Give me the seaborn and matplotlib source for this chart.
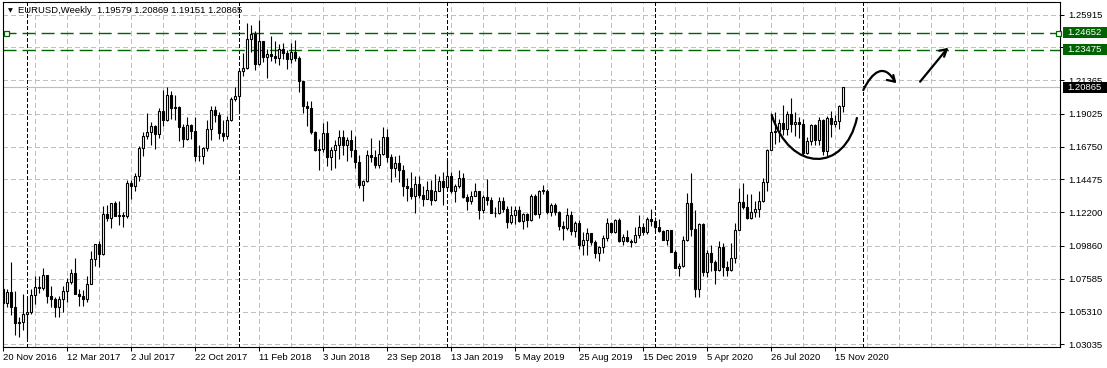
import numpy as np
import pandas as pd
import matplotlib
matplotlib.use("Agg")
import matplotlib.pyplot as plt
import seaborn as sns
from matplotlib.path import Path
from matplotlib.patches import PathPatch, Rectangle
from matplotlib.transforms import blended_transform_factory

# ---------------- data: EURUSD weekly candles, 20 Nov 2016 .. 29 Nov 2020 ----------------
opens = [
    1.0690, 1.0588, 1.0665, 1.0562, 1.0450, 1.0455,
    1.0517, 1.0530, 1.0643, 1.0704, 1.0697, 1.0784, 1.0640, 1.0615, 1.0562, 1.0620, 1.0672, 1.0737, 1.0799,
    1.0652, 1.0642, 1.0615, 1.0725, 1.0896, 1.0998, 1.0933, 1.1206, 1.1181, 1.1281, 1.1195, 1.1198, 1.1194,
    1.1426, 1.1400, 1.1470, 1.1665, 1.1750, 1.1774, 1.1820, 1.1760, 1.1923, 1.1860, 1.2035, 1.1943, 1.1951,
    1.1815, 1.1731, 1.1823, 1.1783, 1.1608, 1.1608, 1.1665, 1.1795, 1.1933, 1.1896, 1.1770, 1.1750, 1.1860,
    1.2005, 1.2030, 1.2200, 1.2220, 1.2425, 1.2460, 1.2250, 1.2405, 1.2295, 1.2315, 1.2305, 1.2290, 1.2355,
    1.2325, 1.2280, 1.2330, 1.2290, 1.2130, 1.1960, 1.1940, 1.1775, 1.1650, 1.1660, 1.1770, 1.1605, 1.1655,
    1.1685, 1.1745, 1.1685, 1.1720, 1.1655, 1.1570, 1.1410, 1.1440, 1.1620, 1.1600, 1.1550, 1.1625, 1.1745,
    1.1605, 1.1525, 1.1560, 1.1510, 1.1405, 1.1385, 1.1335, 1.1415, 1.1340, 1.1315, 1.1375, 1.1305, 1.1370,
    1.1440, 1.1395, 1.1470, 1.1365, 1.1405, 1.1455, 1.1325, 1.1295, 1.1335, 1.1365, 1.1235, 1.1325, 1.1305,
    1.1215, 1.1215, 1.1300, 1.1245, 1.1150, 1.1200, 1.1235, 1.1160, 1.1205, 1.1165, 1.1335, 1.1210, 1.1370,
    1.1370, 1.1225, 1.1270, 1.1220, 1.1125, 1.1110, 1.1200, 1.1090, 1.1145, 1.0990, 1.1030, 1.1075, 1.1015,
    1.0940, 1.0980, 1.1040, 1.1145, 1.1080, 1.1165, 1.1020, 1.1050, 1.1020, 1.1015, 1.1060, 1.1120, 1.1080,
    1.1175, 1.1160, 1.1120, 1.1090, 1.1025, 1.1095, 1.0945, 1.0830, 1.0845, 1.1025, 1.1285, 1.1105, 1.0690,
    1.1140, 1.0805, 1.0935, 1.0875, 1.0820, 1.0980, 1.0840, 1.0820, 1.0900, 1.1100, 1.1290, 1.1255, 1.1180,
    1.1220, 1.1245, 1.1300, 1.1430, 1.1655, 1.1775, 1.1785, 1.1840, 1.1795, 1.1905, 1.1835, 1.1845, 1.1835,
    1.1630, 1.1715, 1.1825, 1.1720, 1.1860, 1.1645, 1.1875, 1.1835, 1.1855, 1.19579,
]
highs = [
    1.0700, 1.0690, 1.0874, 1.0670, 1.0490, 1.0653,
    1.0630, 1.0685, 1.0775, 1.0775, 1.0830, 1.0785, 1.0710, 1.0630, 1.0640, 1.0710, 1.0765, 1.0825, 1.0905,
    1.0690, 1.0680, 1.0780, 1.0950, 1.0999, 1.1020, 1.1265, 1.1268, 1.1285, 1.1295, 1.1295, 1.1220, 1.1445,
    1.1445, 1.1490, 1.1680, 1.1775, 1.1910, 1.1845, 1.1825, 1.1940, 1.2070, 1.2090, 1.2060, 1.2035, 1.1960,
    1.1835, 1.1880, 1.1835, 1.1880, 1.1690, 1.1670, 1.1860, 1.1960, 1.1960, 1.1915, 1.1860, 1.1890, 1.2020,
    1.2090, 1.2215, 1.2325, 1.2535, 1.2520, 1.2475, 1.2555, 1.2410, 1.2355, 1.2445, 1.2410, 1.2390, 1.2395,
    1.2345, 1.2395, 1.2415, 1.2305, 1.2130, 1.1995, 1.1995, 1.1785, 1.1725, 1.1840, 1.1850, 1.1675, 1.1720,
    1.1790, 1.1790, 1.1745, 1.1790, 1.1750, 1.1620, 1.1445, 1.1650, 1.1735, 1.1650, 1.1720, 1.1815, 1.1800,
    1.1625, 1.1610, 1.1620, 1.1545, 1.1455, 1.1500, 1.1470, 1.1470, 1.1400, 1.1440, 1.1445, 1.1485, 1.1470,
    1.1500, 1.1580, 1.1500, 1.1415, 1.1515, 1.1490, 1.1345, 1.1370, 1.1420, 1.1370, 1.1340, 1.1450, 1.1325,
    1.1255, 1.1325, 1.1325, 1.1265, 1.1265, 1.1265, 1.1265, 1.1215, 1.1215, 1.1350, 1.1345, 1.1375, 1.1410,
    1.1380, 1.1285, 1.1285, 1.1230, 1.1160, 1.1250, 1.1230, 1.1160, 1.1165, 1.1085, 1.1110, 1.1075, 1.1025,
    1.0985, 1.1065, 1.1180, 1.1150, 1.1175, 1.1180, 1.1070, 1.1095, 1.1035, 1.1115, 1.1200, 1.1145, 1.1190,
    1.1240, 1.1190, 1.1175, 1.1100, 1.1095, 1.1095, 1.0955, 1.0865, 1.1055, 1.1355, 1.1495, 1.1235, 1.1145,
    1.1145, 1.0955, 1.0990, 1.0890, 1.1020, 1.1010, 1.0880, 1.1010, 1.1145, 1.1385, 1.1420, 1.1350, 1.1350,
    1.1300, 1.1370, 1.1455, 1.1660, 1.1910, 1.1915, 1.1865, 1.1965, 1.1920, 1.2010, 1.1915, 1.1880, 1.1870,
    1.1745, 1.1835, 1.1830, 1.1880, 1.1870, 1.1890, 1.1920, 1.1895, 1.1965, 1.20869,
]
lows = [
    1.0518, 1.0565, 1.0505, 1.0367, 1.0352, 1.0405,
    1.0340, 1.0515, 1.0580, 1.0660, 1.0680, 1.0590, 1.0565, 1.0495, 1.0495, 1.0525, 1.0600, 1.0720, 1.0650,
    1.0570, 1.0570, 1.0600, 1.0720, 1.0850, 1.0840, 1.0925, 1.1160, 1.1110, 1.1195, 1.1130, 1.1120, 1.1180,
    1.1310, 1.1370, 1.1440, 1.1610, 1.1730, 1.1690, 1.1660, 1.1735, 1.1820, 1.1850, 1.1870, 1.1860, 1.1715,
    1.1670, 1.1720, 1.1730, 1.1575, 1.1575, 1.1555, 1.1645, 1.1720, 1.1845, 1.1730, 1.1715, 1.1725, 1.1855,
    1.1990, 1.1915, 1.2165, 1.2215, 1.2335, 1.2205, 1.2245, 1.2260, 1.2155, 1.2270, 1.2255, 1.2240, 1.2280,
    1.2215, 1.2255, 1.2270, 1.2055, 1.1910, 1.1820, 1.1765, 1.1645, 1.1510, 1.1640, 1.1540, 1.1510, 1.1525,
    1.1590, 1.1615, 1.1575, 1.1605, 1.1530, 1.1385, 1.1300, 1.1430, 1.1570, 1.1525, 1.1530, 1.1620, 1.1570,
    1.1430, 1.1465, 1.1430, 1.1335, 1.1300, 1.1315, 1.1215, 1.1320, 1.1265, 1.1310, 1.1270, 1.1300, 1.1370,
    1.1270, 1.1390, 1.1355, 1.1290, 1.1385, 1.1320, 1.1235, 1.1275, 1.1335, 1.1175, 1.1215, 1.1270, 1.1215,
    1.1185, 1.1210, 1.1225, 1.1110, 1.1135, 1.1135, 1.1150, 1.1105, 1.1115, 1.1160, 1.1200, 1.1180, 1.1350,
    1.1205, 1.1195, 1.1200, 1.1100, 1.1025, 1.1100, 1.1065, 1.1050, 1.0965, 1.0925, 1.0925, 1.0990, 1.0905,
    1.0880, 1.0940, 1.1020, 1.1075, 1.1075, 1.1015, 1.0990, 1.1015, 1.0980, 1.1005, 1.1040, 1.1065, 1.1070,
    1.1125, 1.1085, 1.1085, 1.1025, 1.0995, 1.0945, 1.0830, 1.0775, 1.0840, 1.1020, 1.1055, 1.0635, 1.0635,
    1.0780, 1.0770, 1.0810, 1.0725, 1.0815, 1.0780, 1.0775, 1.0810, 1.0870, 1.1095, 1.1245, 1.1170, 1.1170,
    1.1185, 1.1185, 1.1290, 1.1370, 1.1655, 1.1695, 1.1710, 1.1755, 1.1755, 1.1780, 1.1750, 1.1735, 1.1610,
    1.1625, 1.1685, 1.1685, 1.1690, 1.1620, 1.1600, 1.1745, 1.1810, 1.1800, 1.19151,
]
closes = [
    1.0588, 1.0665, 1.0562, 1.0450, 1.0455, 1.0517,
    1.0530, 1.0643, 1.0704, 1.0697, 1.0784, 1.0640, 1.0615, 1.0562, 1.0620, 1.0672, 1.0737, 1.0799, 1.0652,
    1.0642, 1.0615, 1.0725, 1.0896, 1.0998, 1.0933, 1.1206, 1.1181, 1.1281, 1.1195, 1.1198, 1.1194, 1.1426,
    1.1400, 1.1470, 1.1665, 1.1750, 1.1774, 1.1820, 1.1760, 1.1923, 1.1860, 1.2035, 1.1943, 1.1951, 1.1815,
    1.1731, 1.1823, 1.1783, 1.1608, 1.1608, 1.1665, 1.1795, 1.1933, 1.1896, 1.1770, 1.1750, 1.1860, 1.2005,
    1.2030, 1.2200, 1.2220, 1.2425, 1.2460, 1.2250, 1.2405, 1.2295, 1.2315, 1.2305, 1.2290, 1.2355, 1.2325,
    1.2280, 1.2330, 1.2290, 1.2130, 1.1960, 1.1940, 1.1775, 1.1650, 1.1660, 1.1770, 1.1605, 1.1655, 1.1685,
    1.1745, 1.1685, 1.1720, 1.1655, 1.1570, 1.1410, 1.1440, 1.1620, 1.1600, 1.1550, 1.1625, 1.1745, 1.1605,
    1.1525, 1.1560, 1.1510, 1.1405, 1.1385, 1.1335, 1.1415, 1.1340, 1.1315, 1.1375, 1.1305, 1.1370, 1.1440,
    1.1395, 1.1470, 1.1365, 1.1405, 1.1455, 1.1325, 1.1295, 1.1335, 1.1365, 1.1235, 1.1325, 1.1305, 1.1215,
    1.1215, 1.1300, 1.1245, 1.1150, 1.1200, 1.1235, 1.1160, 1.1205, 1.1165, 1.1335, 1.1210, 1.1370, 1.1370,
    1.1225, 1.1270, 1.1220, 1.1125, 1.1110, 1.1200, 1.1090, 1.1145, 1.0990, 1.1030, 1.1075, 1.1015, 1.0940,
    1.0980, 1.1040, 1.1145, 1.1080, 1.1165, 1.1020, 1.1050, 1.1020, 1.1015, 1.1060, 1.1120, 1.1080, 1.1175,
    1.1160, 1.1120, 1.1090, 1.1025, 1.1095, 1.0945, 1.0830, 1.0845, 1.1025, 1.1285, 1.1105, 1.0690, 1.1140,
    1.0805, 1.0935, 1.0875, 1.0820, 1.0980, 1.0840, 1.0820, 1.0900, 1.1100, 1.1290, 1.1255, 1.1180, 1.1220,
    1.1245, 1.1300, 1.1430, 1.1655, 1.1775, 1.1785, 1.1840, 1.1795, 1.1905, 1.1835, 1.1845, 1.1835, 1.1630,
    1.1715, 1.1825, 1.1720, 1.1860, 1.1645, 1.1875, 1.1835, 1.1855, 1.1958, 1.20865,
]

x_tick_labels = ["20 Nov 2016", "12 Mar 2017", "2 Jul 2017", "22 Oct 2017", "11 Feb 2018",
                 "3 Jun 2018", "23 Sep 2018", "13 Jan 2019", "5 May 2019", "25 Aug 2019",
                 "15 Dec 2019", "5 Apr 2020", "26 Jul 2020", "15 Nov 2020"]
bars_per_label = 16
year_start_bars = [6, 59, 111, 163, 215]
price_ticks = [1.25915, 1.23640, 1.21365, 1.19025, 1.16750, 1.14475,
               1.12200, 1.09860, 1.07585, 1.05310, 1.03035]
price_tick_labels = ["1.25915", "", "1.21365", "1.19025", "1.16750", "1.14475",
                     "1.12200", "1.09860", "1.07585", "1.05310", "1.03035"]
level_upper = 1.24652
level_lower = 1.23475
title_text = "EURUSD,Weekly  1.19579 1.20869 1.19151 1.20865"

# hand-drawn annotations (bar index, price)
cup_pts = [(192.1, 1.1895), (196.7, 1.1492), (210.4, 1.1492), (213.4, 1.1874)]
hook_pts = [(215.0, 1.2068), (217.2, 1.2193), (220.2, 1.2262), (222.9, 1.2126)]
hook_head = [(220.9, 1.2138), (222.9, 1.2126), (222.5, 1.2172)]
arrow_line = [(229.2, 1.2126), (235.85, 1.2351)]
arrow_head = [(234.0, 1.2341), (235.85, 1.2351), (235.2, 1.2299)]

# ---------------- style ----------------
sns.set_theme(style="white")
plt.rcParams["font.family"] = ["Liberation Sans", "DejaVu Sans"]
plt.rcParams["lines.scale_dashes"] = False

GREEN = "#006400"
GRID = "#c0c0c0"
FS = 6.8

df = pd.DataFrame({"open": opens, "high": highs, "low": lows, "close": closes})
df["bar"] = np.arange(len(df))
df["up"] = df["close"] >= df["open"]
df["body_lo"] = df[["open", "close"]].min(axis=1)
df["body_h"] = (df["close"] - df["open"]).abs().clip(lower=0.00012)

W, H = 1107, 368
fig = plt.figure(figsize=(W / 100, H / 100), dpi=100)
fig.patch.set_facecolor("white")
L, R, T, B = 2.5, 1059.5, 1.5, 347.0
ax = fig.add_axes([L / W, 1 - B / H, (R - L) / W, (B - T) / H])
ax.set_facecolor("white")

xmin, xmax = -0.2, 264.05
ymin, ymax = 1.02848, 1.26825
ax.set_xlim(xmin, xmax)
ax.set_ylim(ymin, ymax)

# grid
grid_bars = np.arange(8, 264, 8)
ax.vlines(grid_bars, ymin, ymax, colors=GRID, linewidth=0.75,
          linestyles=(0, (2.9, 2.2)), zorder=1, antialiased=False)
ax.hlines(price_ticks, xmin, xmax, colors=GRID, linewidth=0.75,
          linestyles=(0, (2.9, 2.2)), zorder=1, antialiased=False)
# period separators
ax.vlines(year_start_bars, ymin, ymax, colors="black", linewidth=0.75,
          linestyles=(0, (2.2, 1.5)), zorder=2, antialiased=False)

# current price line
ax.axhline(closes[-1], color="#bdbdbd", linewidth=0.8, zorder=2)

# horizontal levels
ax.axhline(level_upper, color=GREEN, linewidth=1.0, dashes=(9.4, 4.3), zorder=2)
ax.axhline(level_lower, color=GREEN, linewidth=1.0, dashes=(9.4, 4.3), zorder=2)
ax.plot([0.6, 263.7], [level_upper, level_upper], linestyle="none", marker="s",
        markersize=3.6, markerfacecolor="white", markeredgecolor=GREEN,
        markeredgewidth=0.9, zorder=6, clip_on=False)

# candles
ax.vlines(df["bar"], df["low"], df["high"], colors="black", linewidth=0.8, zorder=3)
up = df[df["up"]]
dn = df[~df["up"]]
ax.bar(up["bar"], up["body_h"], bottom=up["body_lo"], width=0.55, facecolor="white",
       edgecolor="black", linewidth=0.8, zorder=4)
ax.bar(dn["bar"], dn["body_h"], bottom=dn["body_lo"], width=0.55, facecolor="black",
       edgecolor="black", linewidth=0.8, zorder=4)

# hand-drawn annotations
cup_path = Path(cup_pts, [Path.MOVETO, Path.CURVE4, Path.CURVE4, Path.CURVE4])
ax.add_patch(PathPatch(cup_path, facecolor="none", edgecolor="black", linewidth=1.6,
                       zorder=7, capstyle="round"))
hook_path = Path(hook_pts, [Path.MOVETO, Path.CURVE4, Path.CURVE4, Path.CURVE4])
ax.add_patch(PathPatch(hook_path, facecolor="none", edgecolor="black", linewidth=1.6,
                       zorder=7, capstyle="round"))
for pts in (hook_head, arrow_line, arrow_head):
    xs, ys = zip(*pts)
    ax.plot(xs, ys, color="black", linewidth=1.6, solid_capstyle="round",
            solid_joinstyle="round", zorder=7)

# axes / ticks
for sp in ax.spines.values():
    sp.set_visible(True)
    sp.set_color("black")
    sp.set_linewidth(0.8)

ax.set_xticks(np.arange(len(x_tick_labels)) * bars_per_label)
ax.set_xticklabels(x_tick_labels, fontsize=FS, color="black", ha="left")
ax.tick_params(axis="x", bottom=True, direction="out", length=3, width=0.75,
               color="black", pad=1.5)
ax.yaxis.tick_right()
ax.set_yticks(price_ticks)
ax.set_yticklabels(price_tick_labels, fontsize=FS, color="black")
ax.tick_params(axis="y", right=True, left=False, labelright=True, labelleft=False,
               direction="out", length=3, width=0.75, color="black", pad=3)
ax.grid(False)

# price tags on the right scale
tr = blended_transform_factory(fig.transFigure, ax.transData)
px_price = (ymax - ymin) / (B - T)
for price, label, fc in [(level_upper, "1.24652", GREEN), (level_lower, "1.23475", GREEN),
                         (closes[-1], "1.20865", "black")]:
    ax.add_patch(Rectangle((1062.5 / W, price - 5.6 * px_price), 44.0 / W, 11.2 * px_price,
                           transform=tr, facecolor=fc, edgecolor="none",
                           clip_on=False, zorder=8))
    ax.text(1067 / W, price, label, transform=tr, color="white", fontsize=FS,
            ha="left", va="center", clip_on=False, zorder=9)

# title
fig.text(7.5 / W, 1 - 10.5 / H, "▼", fontsize=4.5, color="black", ha="left", va="center",
         family=["DejaVu Sans"])
fig.text(18 / W, 1 - 10.5 / H, title_text, fontsize=FS, color="black", ha="left",
         va="center")

fig.savefig("out.png", dpi=100, facecolor="white")
